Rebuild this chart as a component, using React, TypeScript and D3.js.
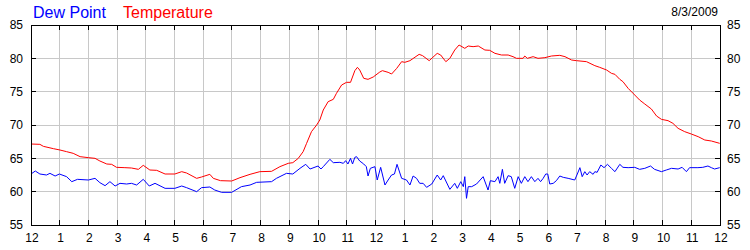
import React from "react";
import * as d3 from "d3";

// [hour, °F]
const temperature: [number, number][] = [
  [0, 67.15], [0.31, 67.1], [0.43, 66.8], [0.78, 66.45], [1.01, 66.25], [1.24, 66.0], [1.47, 65.75],
  [1.71, 65.25], [2.0, 65.1], [2.23, 65.0], [2.4, 64.6], [2.64, 64.15], [2.81, 64.1], [2.98, 63.65],
  [3.27, 63.6], [3.5, 63.55], [3.74, 63.35], [3.91, 63.95], [4.14, 63.25], [4.38, 63.2], [4.67, 62.65],
  [5.01, 62.65], [5.25, 63.0], [5.42, 62.8], [5.77, 62.0], [5.94, 62.2], [6.23, 62.6], [6.35, 62.0],
  [6.6, 61.65], [6.99, 61.6], [7.28, 62.1], [7.63, 62.6], [7.97, 63.0], [8.38, 63.05], [8.67, 63.75],
  [8.96, 64.25], [9.12, 64.35], [9.31, 65.0], [9.48, 66.0], [9.6, 67.25], [9.77, 69.0], [9.95, 70.0],
  [10.06, 70.75], [10.18, 72.25], [10.35, 73.5], [10.53, 73.85], [10.64, 74.75], [10.82, 76.0],
  [10.99, 76.4], [11.13, 76.4], [11.28, 78.15], [11.37, 78.65], [11.45, 78.25], [11.59, 77.0],
  [11.74, 76.85], [11.92, 77.2], [12.15, 77.95], [12.24, 78.15], [12.44, 77.9], [12.56, 77.65],
  [12.74, 78.5], [12.91, 79.5], [13.02, 79.4], [13.2, 79.65], [13.52, 80.6], [13.64, 80.4],
  [13.87, 79.65], [14.15, 80.75], [14.27, 80.5], [14.45, 79.5], [14.59, 80.0], [14.76, 81.25],
  [14.91, 82.0], [15.11, 81.5], [15.23, 81.85], [15.4, 81.75], [15.58, 81.85], [15.81, 81.25],
  [15.98, 81.2], [16.16, 80.75], [16.39, 80.5], [16.62, 80.5], [16.79, 80.25], [16.91, 80.0],
  [17.14, 80.0], [17.2, 80.35], [17.29, 80.0], [17.49, 80.25], [17.66, 80.0], [17.9, 80.1],
  [18.13, 80.35], [18.42, 80.45], [18.6, 80.25], [18.83, 79.75], [19.0, 79.65], [19.35, 79.5],
  [19.64, 78.9], [19.81, 78.65], [20.05, 78.25], [20.22, 77.75], [20.34, 77.6], [20.51, 76.85],
  [20.62, 76.5], [20.8, 75.5], [21.03, 74.5], [21.2, 73.75], [21.38, 73.15], [21.61, 72.4],
  [21.79, 71.35], [21.96, 70.85], [22.19, 70.65], [22.36, 70.25], [22.54, 69.5], [22.77, 69.0],
  [23.0, 68.65], [23.24, 68.25], [23.47, 67.75], [23.7, 67.6], [23.99, 67.25],
];

const dewPoint: [number, number][] = [
  [0, 62.65], [0.15, 63.1], [0.31, 62.65], [0.54, 62.5], [0.66, 62.75], [0.84, 62.35], [0.99, 62.65],
  [1.24, 62.25], [1.42, 61.5], [1.62, 61.85], [2.0, 61.75], [2.23, 62.0], [2.4, 61.35], [2.58, 60.9],
  [2.75, 61.5], [2.93, 60.85], [3.1, 61.25], [3.33, 61.15], [3.5, 61.25], [3.68, 61.0], [3.91, 61.85],
  [4.12, 60.85], [4.32, 61.25], [4.67, 60.5], [5.01, 60.5], [5.25, 60.85], [5.42, 60.6], [5.77, 60.0],
  [5.94, 60.6], [6.23, 60.7], [6.4, 60.25], [6.64, 59.9], [6.99, 59.9], [7.33, 60.75], [7.63, 61.0],
  [7.86, 61.4], [8.38, 61.5], [8.55, 62.0], [8.9, 62.75], [9.12, 62.65], [9.37, 63.5], [9.57, 64.1],
  [9.72, 63.4], [10.0, 63.85], [10.1, 63.4], [10.18, 63.75], [10.41, 64.85], [10.53, 64.35],
  [10.76, 64.4], [10.88, 64.25], [10.96, 64.65], [11.04, 64.15], [11.13, 65.0], [11.2, 64.15],
  [11.28, 65.15], [11.34, 65.25], [11.45, 64.6], [11.59, 64.15], [11.68, 63.75], [11.74, 62.35],
  [11.82, 63.5], [11.98, 63.75], [12.06, 61.75], [12.18, 63.65], [12.33, 61.0], [12.44, 61.75],
  [12.56, 62.5], [12.66, 62.65], [12.75, 64.1], [12.91, 62.0], [13.08, 61.75], [13.2, 61.0],
  [13.31, 62.35], [13.43, 62.0], [13.54, 61.25], [13.66, 61.25], [13.78, 60.65], [13.96, 61.15],
  [14.15, 62.5], [14.27, 61.75], [14.36, 62.4], [14.59, 60.35], [14.76, 61.25], [14.85, 60.5],
  [14.97, 61.5], [15.06, 60.75], [15.11, 62.25], [15.17, 59.0], [15.23, 60.75], [15.35, 60.75],
  [15.52, 61.15], [15.75, 62.25], [15.92, 60.25], [16.0, 61.65], [16.16, 61.5], [16.27, 62.25],
  [16.33, 61.25], [16.42, 63.35], [16.5, 61.25], [16.62, 62.4], [16.73, 62.25], [16.85, 60.5],
  [16.97, 62.25], [17.08, 61.25], [17.2, 62.25], [17.31, 61.5], [17.43, 62.25], [17.55, 61.5],
  [17.66, 62.0], [17.75, 61.5], [17.84, 62.0], [17.93, 62.65], [18.0, 62.65], [18.07, 61.15],
  [18.19, 61.25], [18.3, 61.65], [18.42, 62.35], [18.54, 62.15], [18.71, 62.0], [18.94, 61.75],
  [19.03, 62.65], [19.12, 63.6], [19.2, 62.25], [19.29, 63.0], [19.37, 62.5], [19.46, 63.0],
  [19.58, 62.6], [19.64, 63.0], [19.72, 62.9], [19.85, 64.0], [19.96, 63.6], [20.08, 64.1],
  [20.22, 63.5], [20.34, 63.0], [20.51, 64.1], [20.62, 63.65], [20.8, 63.6], [21.03, 63.65],
  [21.2, 63.35], [21.38, 63.5], [21.58, 63.85], [21.72, 63.35], [21.96, 63.0], [22.13, 63.25],
  [22.31, 63.5], [22.54, 63.4], [22.68, 63.65], [22.83, 63.0], [22.94, 63.6], [23.23, 63.6],
  [23.4, 63.65], [23.58, 63.85], [23.7, 63.6], [23.81, 63.4], [23.99, 63.6],
];

const hourLabels = ["12", "1", "2", "3", "4", "5", "6", "7", "8", "9", "10", "11", "12", "1", "2", "3", "4", "5", "6", "7", "8", "9", "10", "11", "12"];
const yTicks = [55, 60, 65, 70, 75, 80, 85];
const legendItems = [
  { name: "Dew Point", color: "#0000ff" },
  { name: "Temperature", color: "#ff0000" },
];
const dateLabel = "8/3/2009";

const W = 750, H = 250;
const M = { left: 31, right: 30, top: 25, bottom: 25 };
const FONT = "'Liberation Sans', Arial, sans-serif";

export default function App() {
  const x = d3.scaleLinear().domain([0, 24]).range([M.left, W - M.right]);
  const y = d3.scaleLinear().domain([55, 85]).range([H - M.bottom, M.top]);
  const line = d3
    .line<[number, number]>()
    .x((d) => x(d[0]))
    .y((d) => y(d[1]));
  const hours = d3.range(0, 25);
  const x0 = x(0), x1 = x(24), y0 = y(55), y1 = y(85);
  const tick = 5;

  return (
    <svg width={W} height={H} style={{ position: "absolute", left: 0, top: 0, background: "#fff" }} fontFamily={FONT}>
      <rect x={0} y={0} width={W} height={H} fill="#fff" />
      {/* grid */}
      <g stroke="#c8c8c8" strokeWidth={1} shapeRendering="crispEdges">
        {hours.slice(1, -1).map((h) => (
          <line key={"gx" + h} x1={x(h)} x2={x(h)} y1={y1} y2={y0} />
        ))}
        {yTicks.slice(1, -1).map((v) => (
          <line key={"gy" + v} x1={x0} x2={x1} y1={y(v)} y2={y(v)} />
        ))}
      </g>
      {/* series */}
      <path d={line(dewPoint) || ""} fill="none" stroke="#0000ff" strokeWidth={1} />
      <path d={line(temperature) || ""} fill="none" stroke="#ff0000" strokeWidth={1} />
      {/* frame and ticks */}
      <g stroke="#000" strokeWidth={1} shapeRendering="crispEdges">
        <rect x={x0} y={y1} width={x1 - x0} height={y0 - y1} fill="none" />
        {hours.map((h) => (
          <g key={"t" + h}>
            <line x1={x(h)} x2={x(h)} y1={y0} y2={y0 - tick} />
            <line x1={x(h)} x2={x(h)} y1={y1} y2={y1 + tick} />
          </g>
        ))}
        {yTicks.map((v) => (
          <g key={"ty" + v}>
            <line x1={x0} x2={x0 + tick} y1={y(v)} y2={y(v)} />
            <line x1={x1} x2={x1 - tick} y1={y(v)} y2={y(v)} />
          </g>
        ))}
      </g>
      {/* axis labels */}
      <g fontSize={12} fill="#000">
        {yTicks.map((v) => (
          <text key={"ly" + v} x={x0 - 8} y={y(v)} dy="0.35em" textAnchor="end">
            {v}
          </text>
        ))}
        {yTicks.map((v) => (
          <text key={"ry" + v} x={x1 + 7} y={y(v)} dy="0.35em" textAnchor="start">
            {v}
          </text>
        ))}
        {hours.map((h) => (
          <text key={"lx" + h} x={x(h) + 1} y={y0 + 13} dy="0.35em" textAnchor="middle">
            {hourLabels[h]}
          </text>
        ))}
      </g>
      {/* legend */}
      <g fontSize={16}>
        <text x={33} y={18} fill={legendItems[0].color}>{legendItems[0].name}</text>
        <text x={123} y={18} fill={legendItems[1].color}>{legendItems[1].name}</text>
      </g>
      <text x={718} y={16} fontSize={12} textAnchor="end" fill="#000">
        {dateLabel}
      </text>
    </svg>
  );
}
